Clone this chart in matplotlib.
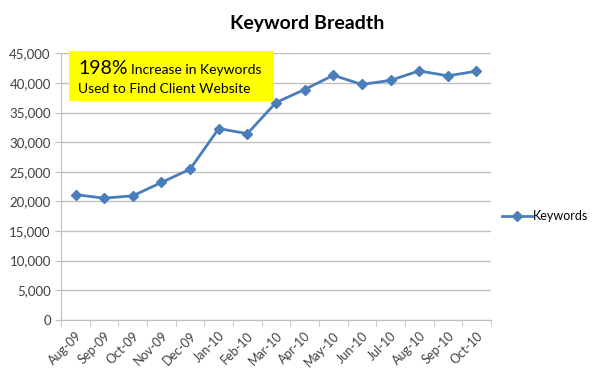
import matplotlib
matplotlib.use("Agg")
import matplotlib.pyplot as plt
from matplotlib.patches import Rectangle
from matplotlib.ticker import FuncFormatter, MultipleLocator

months = ["Aug-09", "Sep-09", "Oct-09", "Nov-09", "Dec-09", "Jan-10", "Feb-10", "Mar-10",
          "Apr-10", "May-10", "Jun-10", "Jul-10", "Aug-10", "Sep-10", "Oct-10"]
keywords = [21150, 20550, 20950, 23200, 25450, 32300, 31450, 36700,
            38900, 41300, 39750, 40450, 42050, 41200, 42000]

plt.rcParams["font.family"] = ["Lato", "DejaVu Sans"]

line_color = "#4A7EBB"
text_color = "#404040"
grid_color = "#BFBFBF"

fig = plt.figure(figsize=(6, 3.84), dpi=100)
ax = fig.add_axes([0.102, 0.167, 0.716, 0.694])

x = list(range(len(months)))
ax.plot(x, keywords, color=line_color, lw=2, marker="D", ms=5, label="Keywords")

ax.set_xlim(-0.5, len(months) - 0.5)
ax.set_ylim(0, 45000)
ax.yaxis.set_major_locator(MultipleLocator(5000))
ax.yaxis.set_major_formatter(FuncFormatter(lambda v, p: f"{int(v):,}"))
ax.set_xticks(x)
ax.set_xticklabels(months, rotation=45, ha="right", rotation_mode="anchor")
ax.set_xticks([i - 0.5 for i in range(len(months) + 1)], minor=True)
ax.tick_params(axis="x", which="major", length=0, labelsize=9, colors=text_color, pad=7)
ax.tick_params(axis="x", which="minor", length=4, color=grid_color, direction="out")
ax.tick_params(axis="y", length=4, color=grid_color, labelsize=9.5, labelcolor=text_color)
ax.grid(axis="y", color=grid_color, lw=1)
ax.set_axisbelow(True)
for s in ["top", "right"]:
    ax.spines[s].set_visible(False)
for s in ["left", "bottom"]:
    ax.spines[s].set_color(grid_color)

fig.text(0.512, 0.94, "Keyword Breadth", ha="center", va="center",
         fontsize=14, fontweight="bold", color="black")

# yellow annotation box
fig.patches.append(Rectangle((0.115, 0.738), 0.342, 0.13, transform=fig.transFigure,
                             facecolor="#FFFF00", edgecolor="none", zorder=5))
fig.text(0.13, 0.807, "198%", fontsize=14, color="black", va="baseline", zorder=6)
fig.text(0.218, 0.807, "Increase in Keywords", fontsize=10, color="black",
         va="baseline", zorder=6)
fig.text(0.13, 0.759, "Used to Find Client Website", fontsize=10, color="black",
         va="baseline", zorder=6)

ax.legend(loc="center left", bbox_to_anchor=(1.0, 0.388), frameon=False,
          fontsize=9, handlelength=2.4, handletextpad=0.1, labelcolor="black")

fig.savefig("out.png", dpi=100, facecolor="white")
